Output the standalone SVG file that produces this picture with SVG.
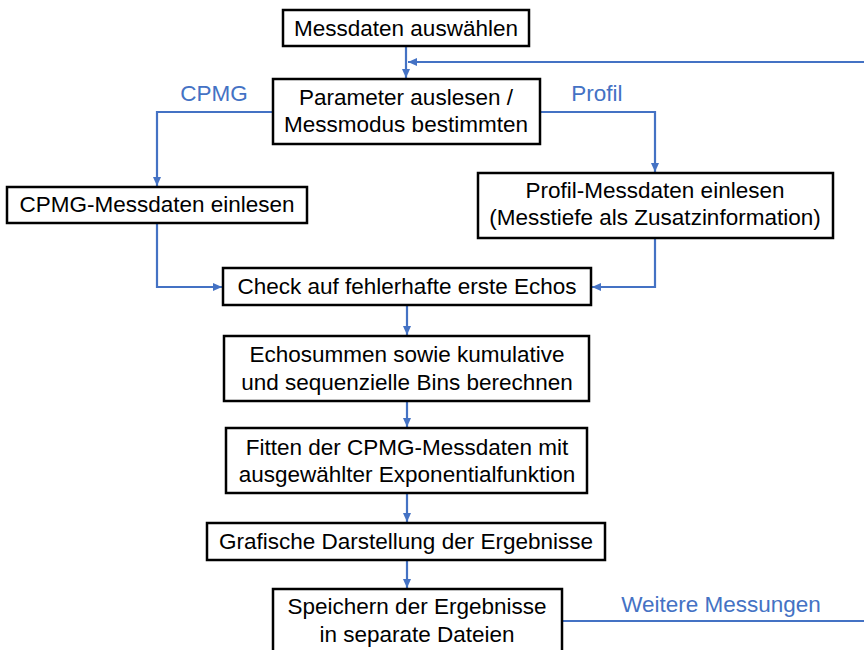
<svg xmlns="http://www.w3.org/2000/svg" width="864" height="650" viewBox="0 0 864 650">
<style>
.box{fill:#fff;stroke:#000;stroke-width:2.5}
.t{font-family:"Liberation Sans",Arial,sans-serif;font-size:22.5px;fill:#000;text-anchor:middle}
.lbl{font-family:"Liberation Sans",Arial,sans-serif;font-size:22.5px;fill:#4472C4;text-anchor:middle}
.c{fill:none;stroke:#4472C4;stroke-width:2.2}
</style>
<defs>
<marker id="ah" markerUnits="userSpaceOnUse" markerWidth="10" markerHeight="10" refX="9" refY="5" orient="auto">
<path d="M0,1 L9,5 L0,9 Z" fill="#4472C4"/>
</marker>
</defs>
<rect width="864" height="650" fill="#fff"/>
<g id="connectors">
<path class="c" d="M406,47 V78" marker-end="url(#ah)"/>
<path class="c" d="M864,62 H408" marker-end="url(#ah)"/>
<path class="c" d="M273,112 H157 V186" marker-end="url(#ah)"/>
<path class="c" d="M540,112 H655 V172" marker-end="url(#ah)"/>
<path class="c" d="M157,223 V287 H222" marker-end="url(#ah)"/>
<path class="c" d="M655,238 V287 H592" marker-end="url(#ah)"/>
<path class="c" d="M407,305 V335" marker-end="url(#ah)"/>
<path class="c" d="M407,401 V427" marker-end="url(#ah)"/>
<path class="c" d="M407,493 V522" marker-end="url(#ah)"/>
<path class="c" d="M407,560 V588" marker-end="url(#ah)"/>
<path class="c" d="M562,621 H864"/>
<text class="lbl" x="214" y="101">CPMG</text>
<text class="lbl" x="597" y="101">Profil</text>
<text class="lbl" x="721" y="612">Weitere Messungen</text>
</g>
<g id="n1"><rect class="box" x="283" y="10" width="246" height="36"/><text class="t" x="406" y="36">Messdaten auswählen</text></g>
<g id="n2"><rect class="box" x="273" y="79" width="267" height="65"/><text class="t" x="406" y="105">Parameter auslesen /</text><text class="t" x="406" y="132">Messmodus bestimmten</text></g>
<g id="n3"><rect class="box" x="7" y="187" width="300" height="36"/><text class="t" x="157" y="212">CPMG-Messdaten einlesen</text></g>
<g id="n4"><rect class="box" x="478" y="173" width="355" height="65"/><text class="t" x="655" y="198">Profil-Messdaten einlesen</text><text class="t" x="655" y="225">(Messtiefe als Zusatzinformation)</text></g>
<g id="n5"><rect class="box" x="223" y="268" width="368" height="37"/><text class="t" x="407" y="294">Check auf fehlerhafte erste Echos</text></g>
<g id="n6"><rect class="box" x="224" y="336" width="365" height="65"/><text class="t" x="407" y="362">Echosummen sowie kumulative</text><text class="t" x="407" y="390">und sequenzielle Bins berechnen</text></g>
<g id="n7"><rect class="box" x="226" y="428" width="361" height="65"/><text class="t" x="407" y="455">Fitten der CPMG-Messdaten mit</text><text class="t" x="407" y="482">ausgewählter Exponentialfunktion</text></g>
<g id="n8"><rect class="box" x="207" y="523" width="398" height="37"/><text class="t" x="406" y="549">Grafische Darstellung der Ergebnisse</text></g>
<g id="n9"><rect class="box" x="273" y="589" width="289" height="70"/><text class="t" x="417" y="614">Speichern der Ergebnisse</text><text class="t" x="417" y="642">in separate Dateien</text></g>
</svg>
